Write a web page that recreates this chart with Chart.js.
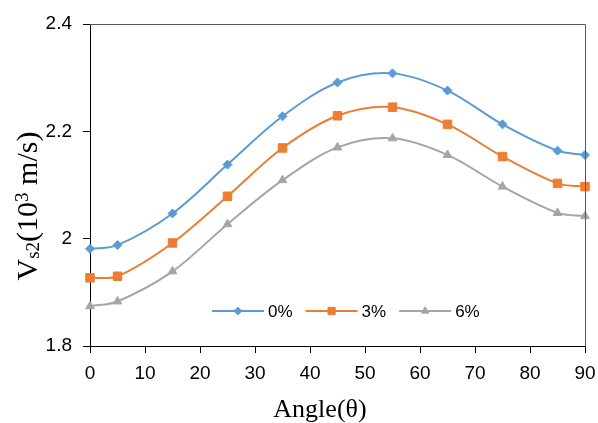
<!DOCTYPE html>
<html><head><meta charset="utf-8">
<script src="https://cdn.jsdelivr.net/npm/chart.js@4/dist/chart.umd.min.js"></script>
<style>html,body{margin:0;padding:0;background:#fff}#wrap{width:598px;height:423px;position:relative}</style>
</head><body><div id="wrap"><canvas id="c" width="598" height="423"></canvas></div>
<script>
const angles = [0, 5, 15, 25, 35, 45, 55, 65, 75, 85, 90];
const series0 = [1.981, 1.988, 2.047, 2.138, 2.228, 2.291, 2.308, 2.276, 2.213, 2.164, 2.156];
const series3 = [1.927, 1.930, 1.992, 2.079, 2.169, 2.229, 2.245, 2.213, 2.153, 2.103, 2.097];
const series6 = [1.874, 1.883, 1.939, 2.027, 2.109, 2.170, 2.187, 2.156, 2.097, 2.048, 2.042];
const seriesNames = ['0%', '3%', '6%'];
const xTicks = [0, 10, 20, 30, 40, 50, 60, 70, 80, 90];
const yTicks = [1.8, 2, 2.2, 2.4];
const yTickLabels = ['1.8', '2', '2.2', '2.4'];
const xTitle = 'Angle(θ)';
const yTitleParts = [['V', 'n'], ['s2', 'sub'], ['(10', 'n'], ['3', 'sup'], [' m/s)', 'n']];

const colors = ['#5B9BD5', '#ED7D31', '#A5A5A5'];
const styles = ['rectRot', 'rect', 'triangle'];
const radii = [4.5, 6, 5];
const allSeries = [series0, series3, series6];

const datasets = allSeries.map((s, i) => ({
  label: seriesNames[i],
  data: angles.map((a, j) => ({x: a, y: s[j]})),
  borderColor: colors[i],
  backgroundColor: colors[i],
  pointBackgroundColor: colors[i],
  pointBorderColor: colors[i],
  pointBorderWidth: 1,
  pointStyle: styles[i],
  pointRadius: radii[i],
  borderWidth: 2,
  tension: 0.33,
  clip: false
}));

const SANS = '"Liberation Sans", Arial, sans-serif';
const SERIF = '"Liberation Serif", "Times New Roman", serif';

const extras = {
  id: 'extras',
  afterDraw(chart) {
    const ctx = chart.ctx;
    const a = chart.chartArea;
    ctx.save();
    ctx.strokeStyle = '#595959';
    ctx.lineWidth = 1;
    ctx.beginPath();
    ctx.moveTo(a.left, a.top + 0.5);
    ctx.lineTo(a.right + 0.5, a.top + 0.5);
    ctx.lineTo(a.right + 0.5, a.bottom);
    ctx.stroke();

    // legend
    ctx.font = '17px ' + SANS;
    ctx.textBaseline = 'middle';
    let lx = 212;
    const ly = 311;
    chart.data.datasets.forEach((d, i) => {
      ctx.strokeStyle = d.borderColor;
      ctx.fillStyle = d.borderColor;
      ctx.lineWidth = 2;
      ctx.beginPath();
      ctx.moveTo(lx, ly);
      ctx.lineTo(lx + 52, ly);
      ctx.stroke();
      ctx.lineWidth = 1;
      Chart.helpers.drawPoint(ctx, {pointStyle: d.pointStyle, radius: d.pointRadius * 0.85, borderWidth: 1, rotation: 0}, lx + 26, ly);
      ctx.fillStyle = '#000';
      ctx.textAlign = 'left';
      ctx.fillText(d.label, lx + 56, ly + 1);
      lx = lx + 56 + ctx.measureText(d.label).width + 13;
    });

    // x title
    ctx.fillStyle = '#000';
    ctx.font = '26px ' + SERIF;
    ctx.textAlign = 'center';
    ctx.textBaseline = 'alphabetic';
    ctx.fillText(xTitle, 320, 417);

    // y title (rotated, with sub/superscripts)
    const mainF = '30px ' + SERIF, smallF = '19px ' + SERIF;
    let total = 0;
    yTitleParts.forEach(([t, k]) => { ctx.font = k === 'n' ? mainF : smallF; total += ctx.measureText(t).width; });
    ctx.translate(37, 206);
    ctx.rotate(-Math.PI / 2);
    ctx.textAlign = 'left';
    let px = -total / 2;
    yTitleParts.forEach(([t, k]) => {
      ctx.font = k === 'n' ? mainF : smallF;
      const dy = k === 'sub' ? 2 : (k === 'sup' ? -9 : 0);
      ctx.fillText(t, px, dy);
      px += ctx.measureText(t).width;
    });
    ctx.restore();
  }
};

new Chart(document.getElementById('c'), {
  type: 'line',
  data: {datasets},
  options: {
    responsive: false,
    animation: false,
    devicePixelRatio: 1,
    layout: {padding: {left: 0, top: 24, right: 13, bottom: 0}},
    plugins: {legend: {display: false}, tooltip: {enabled: false}},
    scales: {
      x: {
        type: 'linear', min: 0, max: 90,
        afterBuildTicks: s => { s.ticks = xTicks.map(v => ({value: v})); },
        afterFit: s => { s.height = 77; s.paddingLeft = 0; s.paddingRight = 0; },
        ticks: {font: {family: SANS, size: 19}, color: '#000', padding: 9, maxRotation: 0, autoSkip: false},
        grid: {display: true, drawOnChartArea: false, drawTicks: true, tickLength: 7, tickColor: '#000', tickWidth: 1},
        border: {display: true, color: '#000', width: 1}
      },
      y: {
        type: 'linear', min: 1.8, max: 2.4,
        afterBuildTicks: s => { s.ticks = yTicks.map(v => ({value: v})); },
        afterFit: s => { s.width = 90; s.paddingTop = 0; s.paddingBottom = 0; },
        ticks: {font: {family: SANS, size: 19}, color: '#000', padding: 11, callback: v => yTickLabels[yTicks.indexOf(v)]},
        grid: {display: true, drawOnChartArea: false, drawTicks: true, tickLength: 7, tickColor: '#000', tickWidth: 1},
        border: {display: true, color: '#000', width: 1}
      }
    }
  },
  plugins: [extras]
});
</script></body></html>
